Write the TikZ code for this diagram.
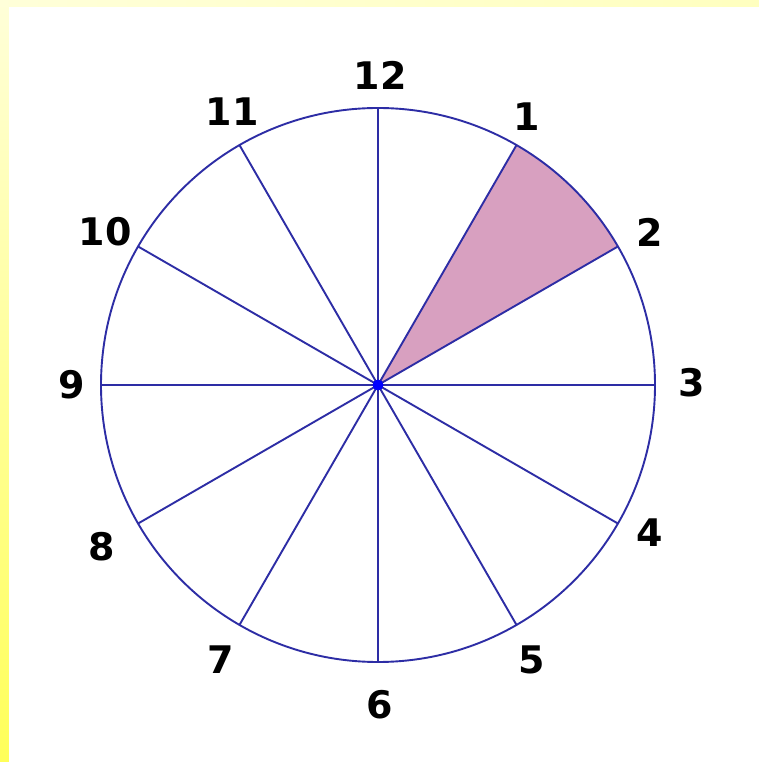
\documentclass[tikz,border=0pt]{standalone}
\usepackage{fontspec}
\setmainfont{DejaVu Sans}
\usepackage{tikz}

\definecolor{spokeblue}{RGB}{45,45,165}
\definecolor{sectorpink}{RGB}{216,160,192}

\begin{document}
\begin{tikzpicture}[x=1pt, y=1pt,
  spoke/.style={spokeblue, line width=1.9pt},
  hour/.style={font=\bfseries\fontsize{38}{42}\selectfont, text=black}]
  % page and yellow edges
  \useasboundingbox (-378,-377) rectangle (381,385);
  \fill[white] (-378,-377) rectangle (381,385);
  \shade[top color=yellow!15, bottom color=yellow!65] (-378,-377) rectangle (-369,385);
  \shade[left color=yellow!15, right color=yellow!25] (-378,378) rectangle (381,385);
  % shaded sector from 1 to 2
  \fill[sectorpink] (0,0) -- (60:277) arc (60:30:277) -- cycle;
  % dial
  \draw[spoke] (0,0) circle (277);
  \foreach \h in {1,...,12}
    \draw[spoke] (0,0) -- ({90-30*\h}:277);
  \foreach \h/\x/\y in {12/2/310, 1/149/268, 2/272/153, 3/314/2, 4/272/-148,
      5/154/-275, 6/2/-320, 7/-157/-275, 8/-276/-162, 9/-306/0,
      10/-273/153, 11/-146/273}
    \node[hour] (h\h) at (\x,\y) {\h};
  \fill[blue] (0,0) circle (5.5);
\end{tikzpicture}
\end{document}
